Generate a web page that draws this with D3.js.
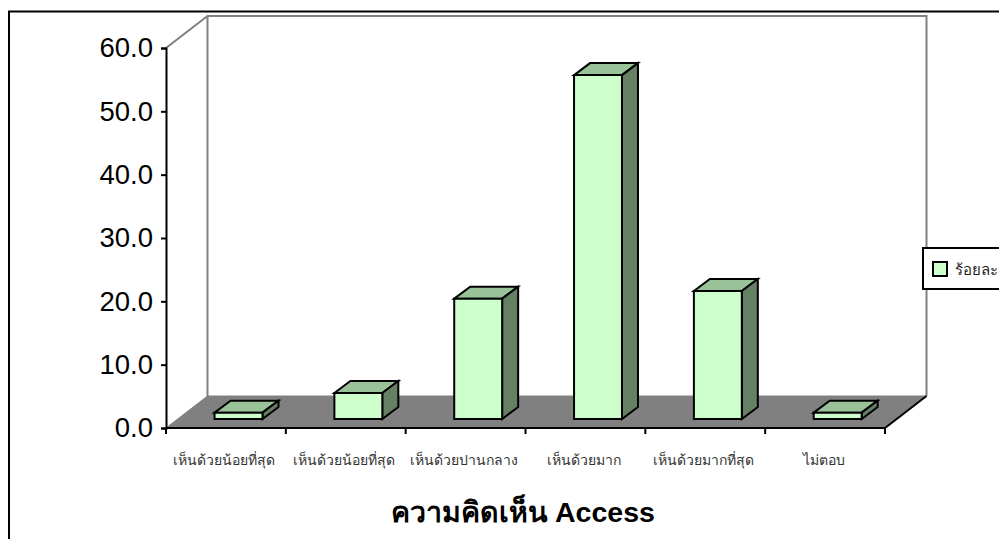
<!DOCTYPE html>
<html><head><meta charset="utf-8">
<script src="https://cdnjs.cloudflare.com/ajax/libs/d3/7.8.5/d3.min.js"></script>
<style>html,body{margin:0;padding:0;background:#fff;overflow:hidden}svg{display:block}
text{font-family:"Liberation Sans",Arial,"Noto Sans",sans-serif}</style></head><body>
<svg id="c" width="999" height="539"></svg>
<script>
const categories=["เห็นด้วยน้อยที่สุด","เห็นด้วยน้อยที่สุด","เห็นด้วยปานกลาง","เห็นด้วยมาก","เห็นด้วยมากที่สุด","ไม่ตอบ"];
const values=[1.0,4.1,19.0,54.3,20.2,1.0];
const yTicks=[0,10,20,30,40,50,60];
const seriesName="ร้อยละ";
const xTitle="ความคิดเห็น Access";

const svg=d3.select("#c");
const x0=166,x1=885,y0=428,y1=48,depthX=41.5,depthY=32,barDX=12.6,barDY=9,barDepthX=16,barDepthY=12;
const idx=categories.map((_,i)=>i);
const x=d3.scaleBand().domain(idx).range([x0,x1]).paddingInner(0.6).paddingOuter(0.3);
const y=d3.scaleLinear().domain([0,60]).range([y0,y1]);
const line=d3.line();

svg.append("rect").attr("x",9).attr("y",11.5).attr("width",1100).attr("height",700).attr("fill","#fff").attr("stroke","#000").attr("stroke-width",2);

// back wall, left wall and floor
const grey="#808080";
svg.append("path").attr("d",line([[x0,y1],[x0+depthX,y1-depthY],[x1+depthX,y1-depthY],[x1+depthX,y0-depthY]])).attr("fill","none").attr("stroke",grey).attr("stroke-width",2);
svg.append("path").attr("d",line([[x0+depthX,y1-depthY],[x0+depthX,y0-depthY]])).attr("fill","none").attr("stroke",grey).attr("stroke-width",2);
svg.append("path").attr("d",line([[x0,y0],[x0+depthX,y0-depthY],[x1+depthX,y0-depthY],[x1,y0]])+"Z").attr("fill",grey).attr("stroke",grey).attr("stroke-width",1);

// axes
const yAxis=d3.axisLeft(y).tickValues(yTicks).tickFormat(d3.format(".1f")).tickSize(5).tickPadding(8);
const gy=svg.append("g").attr("transform",`translate(${x0},0)`).call(yAxis);
gy.selectAll("path,line").attr("stroke","#000").attr("stroke-width",2);
gy.selectAll("text").attr("font-size",27.5).attr("fill","#000").attr("font-family",'"Liberation Sans",Arial,sans-serif');

const edges=d3.scaleLinear().domain([0,categories.length]).range([x0,x1]);
const gx=svg.append("g");
gx.append("path").attr("d",line([[x0,y0],[x1,y0]])).attr("stroke","#000").attr("stroke-width",2);
gx.append("path").attr("d",line([[x1,y0],[x1+depthX,y0-depthY]])).attr("stroke","#000").attr("stroke-width",2);
gx.selectAll("line").data(d3.range(categories.length+1)).join("line")
 .attr("x1",edges).attr("x2",edges).attr("y1",y0).attr("y2",y0+6).attr("stroke","#000").attr("stroke-width",2);
gx.selectAll("text").data(idx).join("text")
 .attr("x",i=>x(i)+x.bandwidth()/2-1.5).attr("y",465)
 .attr("text-anchor","middle").attr("font-size",14).attr("fill","#333")
 .text(i=>categories[i]);

// bars
const bars=svg.selectAll("g.bar").data(idx).join("g").attr("class","bar");
const bw=x.bandwidth();
const bx=i=>x(i)+barDX, barBase=y0-barDY, barTop=i=>y(values[i])-barDY;
function st(s){return s.attr("stroke","#000").attr("stroke-width",2).attr("stroke-linejoin","miter");}
st(bars.append("path").attr("fill","#99c299").attr("d",i=>line([[bx(i),barTop(i)],[bx(i)+barDepthX,barTop(i)-barDepthY],[bx(i)+bw+barDepthX,barTop(i)-barDepthY],[bx(i)+bw,barTop(i)]])+"Z"));
st(bars.append("path").attr("fill","#668066").attr("d",i=>line([[bx(i)+bw,barTop(i)],[bx(i)+bw+barDepthX,barTop(i)-barDepthY],[bx(i)+bw+barDepthX,barBase-barDepthY],[bx(i)+bw,barBase]])+"Z"));
st(bars.append("path").attr("fill","#ccffcc").attr("d",i=>line([[bx(i),barTop(i)],[bx(i)+bw,barTop(i)],[bx(i)+bw,barBase],[bx(i),barBase]])+"Z"));

// title
svg.append("text").attr("x",523).attr("y",522).attr("text-anchor","middle").attr("font-size",28.5).attr("font-weight","bold").attr("fill","#000").text(xTitle);

// legend
svg.append("rect").attr("x",923).attr("y",248).attr("width",100).attr("height",41).attr("fill","#fff").attr("stroke","#000").attr("stroke-width",2);
st(svg.append("rect").attr("x",933).attr("y",262).attr("width",14).attr("height",14).attr("fill","#ccffcc"));
svg.append("text").attr("x",955).attr("y",275).attr("font-size",15).attr("fill","#222").text(seriesName);
</script></body></html>
